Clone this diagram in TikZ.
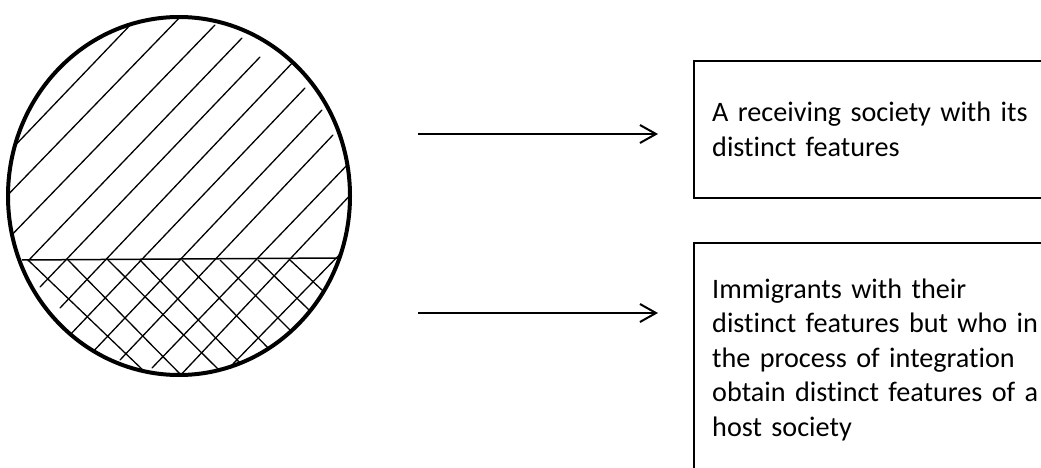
\documentclass[tikz,border=0pt]{standalone}
\usepackage{fontspec}
\setmainfont{Carlito}[RawFeature={-liga;-clig;-calt;-dlig}, WordSpace=0.75]
\usetikzlibrary{arrows.meta, shapes.geometric}
\tikzset{
  outline/.style={line width=4pt},
  hatch/.style={line width=1.3pt, line cap=round},
  divider/.style={line width=1.5pt},
  pointer/.style={line width=2pt, -{Straight Barb[length=16pt, width=18pt, line width=2pt]}},
  framebox/.style={draw, line width=2pt, inner sep=0pt, anchor=north west},
  caption/.style={anchor=base west, inner sep=0pt, align=left, text width=500pt,
    font=\fontsize{28.2}{34.6}\selectfont}
}
\begin{document}
\begin{tikzpicture}[x=1pt, y=-1pt]
\useasboundingbox (0,0) rectangle (1041,468);
\clip (0,0) rectangle (1041,468);

% hatching inside the disc
\begin{scope}
  \clip (179,196) ellipse [x radius=170, y radius=178];
  % single hatching, upper part
  \draw[hatch] (5,156) -- (135,20);
  \draw[hatch] (0,203) -- (185,12);
  \draw[hatch] (4,243) -- (215,25);
  \draw[hatch] (28,261) -- (242,38);
  \draw[hatch] (40,287) -- (260,57);
  \draw[hatch] (60,308) -- (295,60);
  \draw[hatch] (68,337) -- (305,88);
  \draw[hatch] (88,357) -- (322,110);
  \draw[hatch] (120,360) -- (333,135);
  \draw[hatch] (152,368) -- (352,160);
  \draw[hatch] (176,380) -- (356,189);
  \draw[hatch] (230,367) -- (345,249);
  % cross hatching, lower part
  \draw[hatch] (28,260) -- (146,373);
  \draw[hatch] (68,260) -- (186,380);
  \draw[hatch] (108,260) -- (222,373);
  \draw[hatch] (140,260) -- (242,365);
  \draw[hatch] (182,260) -- (272,352);
  \draw[hatch] (220,260) -- (290,330);
  \draw[hatch] (258,260) -- (309,310);
  \draw[hatch] (290,260) -- (323,291);
\end{scope}
\coordinate (divL) at (22,260);
\coordinate (divR) at (337,258);
\draw[divider] (divL) -- (divR);
\node[draw, outline, ellipse, minimum width=342pt, minimum height=358pt, inner sep=0pt] (disc) at (179,196) {};

% boxes
\node[framebox, minimum width=400pt, minimum height=137pt] (topbox) at (693,60) {};
\node[framebox, minimum width=400pt, minimum height=260pt] (lowbox) at (693,242) {};

\node[caption] (toptext) at (712,122) {A receiving society with its\\distinct features};
\node[caption] (lowtext) at (712,298) {Immigrants with their\\distinct features but who in\\the process of integration\\obtain distinct features of a\\host society};

% pointers
\coordinate (a1s) at (418,134);
\coordinate (a1e) at (658,134);
\coordinate (a2s) at (418,313);
\coordinate (a2e) at (658,313);
\draw[pointer] (a1s) -- (a1e);
\draw[pointer] (a2s) -- (a2e);
\end{tikzpicture}
\end{document}
